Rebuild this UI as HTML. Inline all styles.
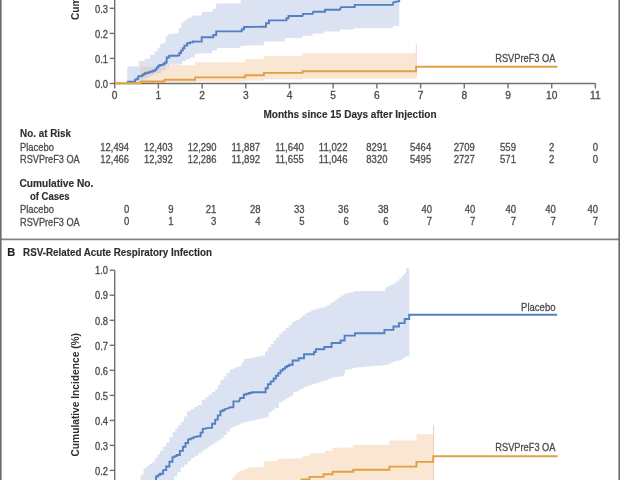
<!DOCTYPE html>
<html><head><meta charset="utf-8"><style>
html,body{margin:0;padding:0;background:#fff;}
body{width:620px;height:480px;overflow:hidden;}
svg{display:block;font-family:"Liberation Sans", sans-serif;will-change:transform;filter:blur(0.3px);}
</style></head><body>
<svg width="620" height="480" viewBox="0 0 620 480">
<rect width="620" height="480" fill="#fff"/>
<defs><clipPath id="cb"><polygon points="127.3,66.6 138.8,66.6 138.8,61.0 144.5,61.0 144.5,58.8 150.2,58.8 150.2,55.1 154.4,55.1 154.4,51.5 157.5,51.5 157.5,47.8 159.6,47.8 160.4,44.3 163.5,43.2 165.6,43.2 165.6,36.5 167.7,36.5 167.7,34.4 177.1,33.3 178.6,33.3 178.6,28.1 181.3,28.1 181.3,22.9 183.3,22.9 183.3,20.8 186.5,20.8 186.5,18.8 191.1,17.7 192.2,15.6 201.7,15.6 202.4,11.7 212.6,11.7 212.6,8.8 216.2,8.8 216.2,3.6 240.3,3.6 241.0,-1.0 399.2,-1.0 399.2,25.9 392.7,25.9 392.7,28.2 354.0,28.2 354.0,29.4 339.8,29.4 339.8,31.6 323.5,31.6 323.5,33.5 312.6,33.5 312.6,35.7 302.4,35.7 302.4,37.9 284.9,37.9 284.9,41.6 263.8,41.6 263.8,45.2 255.0,45.2 240.3,45.9 240.3,48.1 217.0,48.1 217.0,50.3 212.0,50.3 212.0,53.2 202.4,53.2 195.0,54.0 195.0,57.6 190.0,57.6 190.0,59.3 186.2,59.3 186.2,61.0 182.3,61.0 182.3,64.2 179.0,64.2 170.0,65.0 170.0,67.1 165.8,67.1 165.8,70.2 161.7,70.2 161.7,73.3 156.5,73.3 156.5,74.3 153.9,74.3 153.9,75.4 151.2,75.4 151.2,76.7 148.6,76.7 148.6,78.0 146.0,78.0 146.0,79.3 143.2,79.3 143.2,80.6 140.3,80.6 140.3,83.5 127.3,83.5"/></clipPath></defs>
<polygon points="127.3,66.6 138.8,66.6 138.8,61.0 144.5,61.0 144.5,58.8 150.2,58.8 150.2,55.1 154.4,55.1 154.4,51.5 157.5,51.5 157.5,47.8 159.6,47.8 160.4,44.3 163.5,43.2 165.6,43.2 165.6,36.5 167.7,36.5 167.7,34.4 177.1,33.3 178.6,33.3 178.6,28.1 181.3,28.1 181.3,22.9 183.3,22.9 183.3,20.8 186.5,20.8 186.5,18.8 191.1,17.7 192.2,15.6 201.7,15.6 202.4,11.7 212.6,11.7 212.6,8.8 216.2,8.8 216.2,3.6 240.3,3.6 241.0,-1.0 399.2,-1.0 399.2,25.9 392.7,25.9 392.7,28.2 354.0,28.2 354.0,29.4 339.8,29.4 339.8,31.6 323.5,31.6 323.5,33.5 312.6,33.5 312.6,35.7 302.4,35.7 302.4,37.9 284.9,37.9 284.9,41.6 263.8,41.6 263.8,45.2 255.0,45.2 240.3,45.9 240.3,48.1 217.0,48.1 217.0,50.3 212.0,50.3 212.0,53.2 202.4,53.2 195.0,54.0 195.0,57.6 190.0,57.6 190.0,59.3 186.2,59.3 186.2,61.0 182.3,61.0 182.3,64.2 179.0,64.2 170.0,65.0 170.0,67.1 165.8,67.1 165.8,70.2 161.7,70.2 161.7,73.3 156.5,73.3 156.5,74.3 153.9,74.3 153.9,75.4 151.2,75.4 151.2,76.7 148.6,76.7 148.6,78.0 146.0,78.0 146.0,79.3 143.2,79.3 143.2,80.6 140.3,80.6 140.3,83.5 127.3,83.5" fill="#dbe2f1" />
<polygon points="140.3,66.4 172.0,66.4 172.0,64.8 195.2,65.5 195.2,62.3 245.5,62.3 245.5,59.0 263.8,59.0 263.8,56.1 302.4,56.1 302.4,53.2 416.0,53.2 416.0,78.5 302.6,78.5 302.6,79.4 263.9,79.4 263.9,80.6 245.2,80.6 245.2,81.5 195.2,81.5 195.2,82.3 165.0,82.3 165.0,83.0 140.3,83.3" fill="#f9e6d3" />
<polygon points="140.3,66.4 172.0,66.4 172.0,64.8 195.2,65.5 195.2,62.3 245.5,62.3 245.5,59.0 263.8,59.0 263.8,56.1 302.4,56.1 302.4,53.2 416.0,53.2 416.0,78.5 302.6,78.5 302.6,79.4 263.9,79.4 263.9,80.6 245.2,80.6 245.2,81.5 195.2,81.5 195.2,82.3 165.0,82.3 165.0,83.0 140.3,83.3" fill="#ddd6d8" clip-path="url(#cb)"/>
<line x1="416.3" y1="44" x2="416.3" y2="77.5" stroke="#f7cfc6" stroke-width="1"/>
<g stroke="#707070" stroke-width="1.4" fill="none">
<line x1="114.7" y1="-2" x2="114.7" y2="83.5"/>
<line x1="114.7" y1="83.5" x2="595.4000000000001" y2="83.5"/>
<line x1="109.7" y1="83.5" x2="114.7" y2="83.5"/>
<line x1="109.7" y1="58.4" x2="114.7" y2="58.4"/>
<line x1="109.7" y1="33.4" x2="114.7" y2="33.4"/>
<line x1="109.7" y1="8.3" x2="114.7" y2="8.3"/>
<line x1="114.7" y1="83.5" x2="114.7" y2="88.5"/>
<line x1="158.4" y1="83.5" x2="158.4" y2="88.5"/>
<line x1="202.1" y1="83.5" x2="202.1" y2="88.5"/>
<line x1="245.8" y1="83.5" x2="245.8" y2="88.5"/>
<line x1="289.5" y1="83.5" x2="289.5" y2="88.5"/>
<line x1="333.2" y1="83.5" x2="333.2" y2="88.5"/>
<line x1="376.9" y1="83.5" x2="376.9" y2="88.5"/>
<line x1="420.6" y1="83.5" x2="420.6" y2="88.5"/>
<line x1="464.3" y1="83.5" x2="464.3" y2="88.5"/>
<line x1="508.0" y1="83.5" x2="508.0" y2="88.5"/>
<line x1="551.7" y1="83.5" x2="551.7" y2="88.5"/>
<line x1="595.4" y1="83.5" x2="595.4" y2="88.5"/>
</g>
<polyline points="126.8,81.7 133.8,81.7 133.8,81.7 135.0,81.7 135.0,79.6 136.7,79.6 136.7,78.8 138.3,78.8 138.3,76.2 141.7,76.2 141.7,75.4 143.3,75.4 143.3,74.2 145.0,74.2 145.0,73.3 147.5,73.3 147.5,72.5 150.0,72.5 150.0,71.7 152.5,71.7 152.5,70.8 155.0,70.8 155.0,69.6 156.7,69.6 156.7,67.5 158.3,67.5 158.3,65.8 160.0,65.8 160.0,65.0 163.3,65.0 163.3,63.8 165.0,63.8 165.0,62.5 166.7,62.5 166.7,57.5 169.2,57.5 169.2,55.8 177.5,55.8 177.5,55.4 177.5,55.4 179.3,55.4 179.3,53.0 181.0,53.0 181.0,50.6 182.7,50.6 182.7,48.2 184.4,48.2 184.4,45.6 187.1,45.6 187.1,43.3 190.0,43.3 190.0,42.4 192.9,42.4 192.9,41.5 201.7,41.6 201.7,37.2 211.9,37.2 213.3,37.2 213.3,35.0 216.2,35.0 216.2,31.4 239.6,31.4 241.8,31.4 241.8,29.2 244.0,29.2 244.0,27.0 263.0,26.8 266.0,26.8 266.0,23.3 268.9,23.3 268.9,20.4 284.9,20.4 286.4,20.4 286.4,18.2 288.5,18.2 288.5,16.0 302.4,16.0 303.1,13.9 312.6,13.9 313.3,11.7 323.5,11.7 325.0,11.7 325.0,9.7 339.8,9.7 341.0,7.1 354.7,7.1 354.7,4.9 392.7,4.9 393.4,2.3 399.2,1.3 399.2,-3.0" fill="none" stroke="#5280c3" stroke-width="1.9"/>
<polyline points="115.0,83.3 140.8,83.3 140.8,81.5 164.5,81.5 164.5,79.7 195.2,79.7 195.2,77.4 245.2,77.4 245.2,75.2 263.9,75.2 263.9,72.9 302.6,72.9 302.6,71.2 416.1,71.2 416.1,66.7 557.4,66.7" fill="none" stroke="#e2a043" stroke-width="1.9"/>
<text x="108" y="87.7" font-size="10.2" font-weight="normal" text-anchor="end" fill="#4a4a4a" stroke="#4a4a4a" stroke-width="0.3" textLength="13.0" lengthAdjust="spacingAndGlyphs" >0.0</text>
<text x="108" y="62.6" font-size="10.2" font-weight="normal" text-anchor="end" fill="#4a4a4a" stroke="#4a4a4a" stroke-width="0.3" textLength="13.0" lengthAdjust="spacingAndGlyphs" >0.1</text>
<text x="108" y="37.6" font-size="10.2" font-weight="normal" text-anchor="end" fill="#4a4a4a" stroke="#4a4a4a" stroke-width="0.3" textLength="13.0" lengthAdjust="spacingAndGlyphs" >0.2</text>
<text x="108" y="12.5" font-size="10.2" font-weight="normal" text-anchor="end" fill="#4a4a4a" stroke="#4a4a4a" stroke-width="0.3" textLength="13.0" lengthAdjust="spacingAndGlyphs" >0.3</text>
<text x="114.7" y="98.9" font-size="10.2" font-weight="normal" text-anchor="middle" fill="#4a4a4a" stroke="#4a4a4a" stroke-width="0.3" >0</text>
<text x="158.4" y="98.9" font-size="10.2" font-weight="normal" text-anchor="middle" fill="#4a4a4a" stroke="#4a4a4a" stroke-width="0.3" >1</text>
<text x="202.1" y="98.9" font-size="10.2" font-weight="normal" text-anchor="middle" fill="#4a4a4a" stroke="#4a4a4a" stroke-width="0.3" >2</text>
<text x="245.8" y="98.9" font-size="10.2" font-weight="normal" text-anchor="middle" fill="#4a4a4a" stroke="#4a4a4a" stroke-width="0.3" >3</text>
<text x="289.5" y="98.9" font-size="10.2" font-weight="normal" text-anchor="middle" fill="#4a4a4a" stroke="#4a4a4a" stroke-width="0.3" >4</text>
<text x="333.2" y="98.9" font-size="10.2" font-weight="normal" text-anchor="middle" fill="#4a4a4a" stroke="#4a4a4a" stroke-width="0.3" >5</text>
<text x="376.9" y="98.9" font-size="10.2" font-weight="normal" text-anchor="middle" fill="#4a4a4a" stroke="#4a4a4a" stroke-width="0.3" >6</text>
<text x="420.6" y="98.9" font-size="10.2" font-weight="normal" text-anchor="middle" fill="#4a4a4a" stroke="#4a4a4a" stroke-width="0.3" >7</text>
<text x="464.3" y="98.9" font-size="10.2" font-weight="normal" text-anchor="middle" fill="#4a4a4a" stroke="#4a4a4a" stroke-width="0.3" >8</text>
<text x="508.0" y="98.9" font-size="10.2" font-weight="normal" text-anchor="middle" fill="#4a4a4a" stroke="#4a4a4a" stroke-width="0.3" >9</text>
<text x="551.7" y="98.9" font-size="10.2" font-weight="normal" text-anchor="middle" fill="#4a4a4a" stroke="#4a4a4a" stroke-width="0.3" >10</text>
<text x="595.4" y="98.9" font-size="10.2" font-weight="normal" text-anchor="middle" fill="#4a4a4a" stroke="#4a4a4a" stroke-width="0.3" >11</text>
<text x="555.5" y="61.6" font-size="10.6" font-weight="normal" text-anchor="end" fill="#4c4c4c" stroke="#4c4c4c" stroke-width="0.3" textLength="60.3" lengthAdjust="spacingAndGlyphs" >RSVPreF3 OA</text>
<text x="263.5" y="118.4" font-size="10.6" font-weight="bold" text-anchor="start" fill="#2e2e2e" stroke="#2e2e2e" stroke-width="0.15" textLength="173" lengthAdjust="spacingAndGlyphs" >Months since 15 Days after Injection</text>
<text transform="translate(79.1,20) rotate(-90)" font-size="10.6" font-weight="bold" fill="#2e2e2e" textLength="123" lengthAdjust="spacingAndGlyphs">Cumulative Incidence (%)</text>
<text x="20.1" y="137.4" font-size="10.6" font-weight="bold" text-anchor="start" fill="#2e2e2e" stroke="#2e2e2e" stroke-width="0.15" textLength="50.8" lengthAdjust="spacingAndGlyphs" >No. at Risk</text>
<text x="20" y="150.7" font-size="10.6" font-weight="normal" text-anchor="start" fill="#4c4c4c" stroke="#4c4c4c" stroke-width="0.3" textLength="33.9" lengthAdjust="spacingAndGlyphs" >Placebo</text>
<text x="20" y="163.2" font-size="10.6" font-weight="normal" text-anchor="start" fill="#4c4c4c" stroke="#4c4c4c" stroke-width="0.3" textLength="59.7" lengthAdjust="spacingAndGlyphs" >RSVPreF3 OA</text>
<text x="114.7" y="150.5" font-size="10.5" font-weight="normal" text-anchor="middle" fill="#4c4c4c" stroke="#4c4c4c" stroke-width="0.3" textLength="28.7" lengthAdjust="spacingAndGlyphs" >12,494</text>
<text x="114.7" y="163" font-size="10.5" font-weight="normal" text-anchor="middle" fill="#4c4c4c" stroke="#4c4c4c" stroke-width="0.3" textLength="28.7" lengthAdjust="spacingAndGlyphs" >12,466</text>
<text x="158.4" y="150.5" font-size="10.5" font-weight="normal" text-anchor="middle" fill="#4c4c4c" stroke="#4c4c4c" stroke-width="0.3" textLength="28.7" lengthAdjust="spacingAndGlyphs" >12,403</text>
<text x="158.4" y="163" font-size="10.5" font-weight="normal" text-anchor="middle" fill="#4c4c4c" stroke="#4c4c4c" stroke-width="0.3" textLength="28.7" lengthAdjust="spacingAndGlyphs" >12,392</text>
<text x="202.1" y="150.5" font-size="10.5" font-weight="normal" text-anchor="middle" fill="#4c4c4c" stroke="#4c4c4c" stroke-width="0.3" textLength="28.7" lengthAdjust="spacingAndGlyphs" >12,290</text>
<text x="202.1" y="163" font-size="10.5" font-weight="normal" text-anchor="middle" fill="#4c4c4c" stroke="#4c4c4c" stroke-width="0.3" textLength="28.7" lengthAdjust="spacingAndGlyphs" >12,286</text>
<text x="245.8" y="150.5" font-size="10.5" font-weight="normal" text-anchor="middle" fill="#4c4c4c" stroke="#4c4c4c" stroke-width="0.3" textLength="28.7" lengthAdjust="spacingAndGlyphs" >11,887</text>
<text x="245.8" y="163" font-size="10.5" font-weight="normal" text-anchor="middle" fill="#4c4c4c" stroke="#4c4c4c" stroke-width="0.3" textLength="28.7" lengthAdjust="spacingAndGlyphs" >11,892</text>
<text x="289.5" y="150.5" font-size="10.5" font-weight="normal" text-anchor="middle" fill="#4c4c4c" stroke="#4c4c4c" stroke-width="0.3" textLength="28.7" lengthAdjust="spacingAndGlyphs" >11,640</text>
<text x="289.5" y="163" font-size="10.5" font-weight="normal" text-anchor="middle" fill="#4c4c4c" stroke="#4c4c4c" stroke-width="0.3" textLength="28.7" lengthAdjust="spacingAndGlyphs" >11,655</text>
<text x="333.2" y="150.5" font-size="10.5" font-weight="normal" text-anchor="middle" fill="#4c4c4c" stroke="#4c4c4c" stroke-width="0.3" textLength="28.7" lengthAdjust="spacingAndGlyphs" >11,022</text>
<text x="333.2" y="163" font-size="10.5" font-weight="normal" text-anchor="middle" fill="#4c4c4c" stroke="#4c4c4c" stroke-width="0.3" textLength="28.7" lengthAdjust="spacingAndGlyphs" >11,046</text>
<text x="376.9" y="150.5" font-size="10.5" font-weight="normal" text-anchor="middle" fill="#4c4c4c" stroke="#4c4c4c" stroke-width="0.3" textLength="21.2" lengthAdjust="spacingAndGlyphs" >8291</text>
<text x="376.9" y="163" font-size="10.5" font-weight="normal" text-anchor="middle" fill="#4c4c4c" stroke="#4c4c4c" stroke-width="0.3" textLength="21.2" lengthAdjust="spacingAndGlyphs" >8320</text>
<text x="420.6" y="150.5" font-size="10.5" font-weight="normal" text-anchor="middle" fill="#4c4c4c" stroke="#4c4c4c" stroke-width="0.3" textLength="21.2" lengthAdjust="spacingAndGlyphs" >5464</text>
<text x="420.6" y="163" font-size="10.5" font-weight="normal" text-anchor="middle" fill="#4c4c4c" stroke="#4c4c4c" stroke-width="0.3" textLength="21.2" lengthAdjust="spacingAndGlyphs" >5495</text>
<text x="464.3" y="150.5" font-size="10.5" font-weight="normal" text-anchor="middle" fill="#4c4c4c" stroke="#4c4c4c" stroke-width="0.3" textLength="21.2" lengthAdjust="spacingAndGlyphs" >2709</text>
<text x="464.3" y="163" font-size="10.5" font-weight="normal" text-anchor="middle" fill="#4c4c4c" stroke="#4c4c4c" stroke-width="0.3" textLength="21.2" lengthAdjust="spacingAndGlyphs" >2727</text>
<text x="508.0" y="150.5" font-size="10.5" font-weight="normal" text-anchor="middle" fill="#4c4c4c" stroke="#4c4c4c" stroke-width="0.3" textLength="15.9" lengthAdjust="spacingAndGlyphs" >559</text>
<text x="508.0" y="163" font-size="10.5" font-weight="normal" text-anchor="middle" fill="#4c4c4c" stroke="#4c4c4c" stroke-width="0.3" textLength="15.9" lengthAdjust="spacingAndGlyphs" >571</text>
<text x="551.7" y="150.5" font-size="10.5" font-weight="normal" text-anchor="middle" fill="#4c4c4c" stroke="#4c4c4c" stroke-width="0.3" textLength="5.3" lengthAdjust="spacingAndGlyphs" >2</text>
<text x="551.7" y="163" font-size="10.5" font-weight="normal" text-anchor="middle" fill="#4c4c4c" stroke="#4c4c4c" stroke-width="0.3" textLength="5.3" lengthAdjust="spacingAndGlyphs" >2</text>
<text x="595.4" y="150.5" font-size="10.5" font-weight="normal" text-anchor="middle" fill="#4c4c4c" stroke="#4c4c4c" stroke-width="0.3" textLength="5.3" lengthAdjust="spacingAndGlyphs" >0</text>
<text x="595.4" y="163" font-size="10.5" font-weight="normal" text-anchor="middle" fill="#4c4c4c" stroke="#4c4c4c" stroke-width="0.3" textLength="5.3" lengthAdjust="spacingAndGlyphs" >0</text>
<text x="19.4" y="187.4" font-size="10.6" font-weight="bold" text-anchor="start" fill="#2e2e2e" stroke="#2e2e2e" stroke-width="0.15" textLength="74" lengthAdjust="spacingAndGlyphs" >Cumulative No.</text>
<text x="29.9" y="200" font-size="10.6" font-weight="bold" text-anchor="start" fill="#2e2e2e" stroke="#2e2e2e" stroke-width="0.15" textLength="39.8" lengthAdjust="spacingAndGlyphs" >of Cases</text>
<text x="20" y="213" font-size="10.6" font-weight="normal" text-anchor="start" fill="#4c4c4c" stroke="#4c4c4c" stroke-width="0.3" textLength="33.9" lengthAdjust="spacingAndGlyphs" >Placebo</text>
<text x="20" y="225.6" font-size="10.6" font-weight="normal" text-anchor="start" fill="#4c4c4c" stroke="#4c4c4c" stroke-width="0.3" textLength="59.7" lengthAdjust="spacingAndGlyphs" >RSVPreF3 OA</text>
<text x="129.4" y="213.3" font-size="10.5" font-weight="normal" text-anchor="end" fill="#4c4c4c" stroke="#4c4c4c" stroke-width="0.3" textLength="5.3" lengthAdjust="spacingAndGlyphs" >0</text>
<text x="129.4" y="225.4" font-size="10.5" font-weight="normal" text-anchor="end" fill="#4c4c4c" stroke="#4c4c4c" stroke-width="0.3" textLength="5.3" lengthAdjust="spacingAndGlyphs" >0</text>
<text x="173.5" y="213.3" font-size="10.5" font-weight="normal" text-anchor="end" fill="#4c4c4c" stroke="#4c4c4c" stroke-width="0.3" textLength="5.3" lengthAdjust="spacingAndGlyphs" >9</text>
<text x="173.5" y="225.4" font-size="10.5" font-weight="normal" text-anchor="end" fill="#4c4c4c" stroke="#4c4c4c" stroke-width="0.3" textLength="5.3" lengthAdjust="spacingAndGlyphs" >1</text>
<text x="216.3" y="213.3" font-size="10.5" font-weight="normal" text-anchor="end" fill="#4c4c4c" stroke="#4c4c4c" stroke-width="0.3" textLength="10.6" lengthAdjust="spacingAndGlyphs" >21</text>
<text x="216.3" y="225.4" font-size="10.5" font-weight="normal" text-anchor="end" fill="#4c4c4c" stroke="#4c4c4c" stroke-width="0.3" textLength="5.3" lengthAdjust="spacingAndGlyphs" >3</text>
<text x="260.6" y="213.3" font-size="10.5" font-weight="normal" text-anchor="end" fill="#4c4c4c" stroke="#4c4c4c" stroke-width="0.3" textLength="10.6" lengthAdjust="spacingAndGlyphs" >28</text>
<text x="260.6" y="225.4" font-size="10.5" font-weight="normal" text-anchor="end" fill="#4c4c4c" stroke="#4c4c4c" stroke-width="0.3" textLength="5.3" lengthAdjust="spacingAndGlyphs" >4</text>
<text x="304.6" y="213.3" font-size="10.5" font-weight="normal" text-anchor="end" fill="#4c4c4c" stroke="#4c4c4c" stroke-width="0.3" textLength="10.6" lengthAdjust="spacingAndGlyphs" >33</text>
<text x="304.6" y="225.4" font-size="10.5" font-weight="normal" text-anchor="end" fill="#4c4c4c" stroke="#4c4c4c" stroke-width="0.3" textLength="5.3" lengthAdjust="spacingAndGlyphs" >5</text>
<text x="348.7" y="213.3" font-size="10.5" font-weight="normal" text-anchor="end" fill="#4c4c4c" stroke="#4c4c4c" stroke-width="0.3" textLength="10.6" lengthAdjust="spacingAndGlyphs" >36</text>
<text x="348.7" y="225.4" font-size="10.5" font-weight="normal" text-anchor="end" fill="#4c4c4c" stroke="#4c4c4c" stroke-width="0.3" textLength="5.3" lengthAdjust="spacingAndGlyphs" >6</text>
<text x="388.5" y="213.3" font-size="10.5" font-weight="normal" text-anchor="end" fill="#4c4c4c" stroke="#4c4c4c" stroke-width="0.3" textLength="10.6" lengthAdjust="spacingAndGlyphs" >38</text>
<text x="388.5" y="225.4" font-size="10.5" font-weight="normal" text-anchor="end" fill="#4c4c4c" stroke="#4c4c4c" stroke-width="0.3" textLength="5.3" lengthAdjust="spacingAndGlyphs" >6</text>
<text x="432.1" y="213.3" font-size="10.5" font-weight="normal" text-anchor="end" fill="#4c4c4c" stroke="#4c4c4c" stroke-width="0.3" textLength="10.6" lengthAdjust="spacingAndGlyphs" >40</text>
<text x="432.1" y="225.4" font-size="10.5" font-weight="normal" text-anchor="end" fill="#4c4c4c" stroke="#4c4c4c" stroke-width="0.3" textLength="5.3" lengthAdjust="spacingAndGlyphs" >7</text>
<text x="475.3" y="213.3" font-size="10.5" font-weight="normal" text-anchor="end" fill="#4c4c4c" stroke="#4c4c4c" stroke-width="0.3" textLength="10.6" lengthAdjust="spacingAndGlyphs" >40</text>
<text x="475.3" y="225.4" font-size="10.5" font-weight="normal" text-anchor="end" fill="#4c4c4c" stroke="#4c4c4c" stroke-width="0.3" textLength="5.3" lengthAdjust="spacingAndGlyphs" >7</text>
<text x="516.1" y="213.3" font-size="10.5" font-weight="normal" text-anchor="end" fill="#4c4c4c" stroke="#4c4c4c" stroke-width="0.3" textLength="10.6" lengthAdjust="spacingAndGlyphs" >40</text>
<text x="516.1" y="225.4" font-size="10.5" font-weight="normal" text-anchor="end" fill="#4c4c4c" stroke="#4c4c4c" stroke-width="0.3" textLength="5.3" lengthAdjust="spacingAndGlyphs" >7</text>
<text x="555.8" y="213.3" font-size="10.5" font-weight="normal" text-anchor="end" fill="#4c4c4c" stroke="#4c4c4c" stroke-width="0.3" textLength="10.6" lengthAdjust="spacingAndGlyphs" >40</text>
<text x="555.8" y="225.4" font-size="10.5" font-weight="normal" text-anchor="end" fill="#4c4c4c" stroke="#4c4c4c" stroke-width="0.3" textLength="5.3" lengthAdjust="spacingAndGlyphs" >7</text>
<text x="598.1" y="213.3" font-size="10.5" font-weight="normal" text-anchor="end" fill="#4c4c4c" stroke="#4c4c4c" stroke-width="0.3" textLength="10.6" lengthAdjust="spacingAndGlyphs" >40</text>
<text x="598.1" y="225.4" font-size="10.5" font-weight="normal" text-anchor="end" fill="#4c4c4c" stroke="#4c4c4c" stroke-width="0.3" textLength="5.3" lengthAdjust="spacingAndGlyphs" >7</text>
<line x1="0" y1="239.4" x2="620" y2="239.4" stroke="#858585" stroke-width="1.6"/>
<rect x="0" y="0" width="1.6" height="480" fill="#6a6a6a"/>
<rect x="618.4" y="0" width="1.6" height="480" fill="#6a6a6a"/>
<text x="7.2" y="255.6" font-size="10.6" font-weight="bold" text-anchor="start" fill="#1e1e1e" stroke="#1e1e1e" stroke-width="0.15" textLength="8.0" lengthAdjust="spacingAndGlyphs" >B</text>
<text x="23.1" y="256" font-size="10.6" font-weight="bold" text-anchor="start" fill="#2e2e2e" stroke="#2e2e2e" stroke-width="0.15" textLength="188.8" lengthAdjust="spacingAndGlyphs" >RSV-Related Acute Respiratory Infection</text>
<polygon points="137.8,481.0 140.7,481.0 140.7,474.6 143.6,474.6 143.6,468.3 146.5,468.3 146.5,466.1 149.4,466.1 149.4,463.9 152.3,463.9 152.3,461.7 154.9,461.7 154.9,458.1 157.4,458.1 157.4,454.4 160.0,454.4 160.0,450.8 163.1,450.8 163.1,446.6 166.2,446.6 166.2,442.5 169.4,442.5 169.4,437.3 172.5,437.3 172.5,432.1 175.3,432.1 175.3,428.6 178.0,428.6 178.0,425.2 180.8,425.2 180.8,421.7 183.9,421.7 183.9,416.5 187.1,416.5 187.1,411.2 190.6,411.2 190.6,409.2 194.0,409.2 194.0,407.1 197.5,407.1 197.5,405.0 201.7,405.0 201.7,399.8 205.1,399.8 205.1,397.2 208.4,397.2 208.4,394.6 211.8,394.6 211.8,392.0 215.2,392.0 215.2,389.4 217.8,389.4 217.8,384.7 220.4,384.7 220.4,380.0 223.6,380.0 223.6,376.4 226.8,376.4 226.8,372.9 230.0,372.9 230.0,369.3 233.1,369.3 233.1,368.2 236.1,368.2 236.1,367.0 239.2,367.0 239.2,365.9 241.5,365.9 241.5,362.4 243.8,362.4 243.8,359.0 246.9,359.0 246.9,358.4 249.9,358.4 249.9,357.9 253.0,357.9 253.0,357.3 256.0,357.3 256.0,356.7 259.1,356.7 259.1,356.2 262.1,356.2 262.1,355.6 265.0,355.6 265.0,351.6 267.8,351.6 267.8,347.5 270.7,347.5 270.7,344.1 273.6,344.1 273.6,340.6 276.4,340.6 276.4,337.2 279.3,337.2 279.3,333.8 282.4,333.8 282.4,330.9 285.6,330.9 285.6,328.1 288.8,328.1 288.8,325.2 291.9,325.2 291.9,322.3 294.2,322.3 294.2,321.1 296.5,321.1 296.5,320.0 299.4,320.0 299.4,317.7 302.3,317.7 302.3,315.4 305.2,315.4 305.2,313.1 308.2,313.1 308.2,311.8 311.2,311.8 311.2,310.5 314.2,310.5 314.2,309.2 317.6,309.2 317.6,308.3 321.1,308.3 321.1,307.5 324.5,307.5 324.5,306.6 327.1,306.6 327.1,304.9 329.7,304.9 329.7,303.2 332.3,303.2 332.3,301.5 335.2,301.5 335.2,299.6 338.1,299.6 338.1,297.6 341.0,297.6 341.0,295.6 343.9,295.6 343.9,293.7 347.3,293.7 347.3,292.8 350.8,292.8 350.8,292.0 354.2,292.0 354.2,291.1 383.9,291.1 385.2,291.1 385.2,287.3 387.8,287.3 387.8,286.0 390.3,286.0 390.3,284.7 392.9,284.7 392.9,283.4 396.1,283.4 396.1,280.8 399.4,280.8 399.4,278.2 401.9,278.2 401.9,275.6 404.5,275.6 404.5,273.1 406.0,273.1 406.0,268.2 409.3,268.2 409.3,353.8 409.3,356.2 405.0,356.2 405.0,358.1 402.5,358.1 402.5,360.0 400.0,360.0 400.0,360.6 396.9,360.6 396.9,361.2 393.8,361.2 393.8,362.5 390.8,362.5 390.8,363.8 387.9,363.8 387.9,365.0 385.0,365.0 385.0,365.2 382.0,365.2 382.0,365.5 379.0,365.5 379.0,365.8 376.0,365.8 376.0,366.0 373.0,366.0 373.0,366.2 370.0,366.2 370.0,366.5 367.0,366.5 367.0,366.8 364.0,366.8 364.0,367.0 361.0,367.0 361.0,367.2 358.0,367.2 358.0,367.5 355.0,367.5 355.0,368.3 351.7,368.3 351.7,369.2 348.3,369.2 348.3,370.0 345.0,370.0 345.0,373.8 343.8,373.8 343.8,376.2 340.0,376.2 340.0,376.7 337.2,376.7 337.2,377.1 334.3,377.1 334.3,377.5 331.5,377.5 331.5,378.9 327.9,378.9 327.9,380.4 324.2,380.4 324.2,381.3 321.3,381.3 321.3,382.2 318.4,382.2 318.4,383.2 315.4,383.2 315.4,384.1 312.5,384.1 312.5,385.1 309.6,385.1 309.6,386.0 306.7,386.0 306.7,387.0 303.8,387.0 303.8,388.7 300.3,388.7 300.3,390.4 296.9,390.4 296.9,392.1 293.5,392.1 293.5,395.0 292.1,395.0 292.1,396.8 288.8,396.8 288.8,398.6 285.6,398.6 285.6,400.5 282.3,400.5 282.3,402.3 279.0,402.3 279.0,408.1 274.6,408.1 274.6,410.3 271.7,410.3 271.7,412.5 268.8,412.5 268.8,417.6 264.4,417.6 264.4,418.2 261.5,418.2 261.5,418.9 258.5,418.9 258.5,419.5 255.6,419.5 255.6,420.2 252.6,420.2 252.6,420.8 249.7,420.8 249.7,421.5 246.7,421.5 246.7,422.1 243.8,422.1 243.8,423.3 241.0,423.3 241.0,424.5 238.3,424.5 238.3,425.6 235.5,425.6 235.5,426.8 232.8,426.8 232.8,428.0 230.0,428.0 230.0,431.4 226.8,431.4 226.8,434.9 223.6,434.9 223.6,438.3 220.4,438.3 220.4,440.4 217.3,440.4 217.3,442.5 214.2,442.5 214.2,444.6 211.1,444.6 211.1,446.6 207.9,446.6 207.9,448.7 204.8,448.7 204.8,450.8 201.7,450.8 201.7,453.2 198.2,453.2 198.2,455.7 194.7,455.7 194.7,458.1 191.2,458.1 191.2,461.2 187.8,461.2 187.8,464.4 184.3,464.4 184.3,467.5 180.8,467.5 180.8,472.0 177.3,472.0 177.3,476.5 173.9,476.5 173.9,481.0 170.4,481.0" fill="#dbe2f1" />
<polygon points="228.9,481.0 231.5,481.0 231.5,478.1 234.0,478.1 234.0,475.2 236.6,475.2 236.6,472.3 239.5,472.3 239.5,471.1 242.4,471.1 242.4,469.9 245.3,469.9 245.3,468.6 248.2,468.6 248.2,467.4 263.7,467.0 263.7,461.6 277.5,461.0 277.5,458.7 302.8,458.2 302.8,455.8 309.8,455.8 309.8,453.5 324.8,453.2 324.8,450.8 332.6,450.8 332.6,447.7 352.7,447.5 352.7,444.8 389.1,444.8 389.1,440.4 416.6,440.4 416.6,434.2 433.5,434.2 433.5,481.0" fill="#f9e6d3" />
<line x1="433.5" y1="425.3" x2="433.5" y2="481" stroke="#f6c9c0" stroke-width="1"/>
<g stroke="#707070" stroke-width="1.4" fill="none">
<line x1="114.7" y1="270.2" x2="114.7" y2="482"/>
<line x1="109.7" y1="470.4" x2="114.7" y2="470.4"/>
<line x1="109.7" y1="445.4" x2="114.7" y2="445.4"/>
<line x1="109.7" y1="420.4" x2="114.7" y2="420.4"/>
<line x1="109.7" y1="395.4" x2="114.7" y2="395.4"/>
<line x1="109.7" y1="370.3" x2="114.7" y2="370.3"/>
<line x1="109.7" y1="345.3" x2="114.7" y2="345.3"/>
<line x1="109.7" y1="320.3" x2="114.7" y2="320.3"/>
<line x1="109.7" y1="295.2" x2="114.7" y2="295.2"/>
<line x1="109.7" y1="270.2" x2="114.7" y2="270.2"/>
</g>
<polyline points="152.8,482.0 156.0,482.0 156.0,476.5 158.0,476.5 158.0,475.1 160.0,475.1 160.0,473.8 163.1,473.8 163.1,470.1 166.2,470.1 166.2,466.5 169.4,466.5 169.4,461.8 172.5,461.8 172.5,457.1 174.6,457.1 174.6,456.1 176.7,456.1 176.7,455.0 179.8,455.0 179.8,450.9 182.9,450.9 182.9,446.7 185.5,446.7 185.5,443.0 188.1,443.0 188.1,439.4 190.7,439.4 190.7,438.4 193.3,438.4 193.3,437.3 198.5,436.2 200.6,436.2 200.6,432.6 202.7,432.6 202.7,429.0 209.0,427.9 212.1,427.9 212.1,423.8 215.2,423.8 215.2,419.6 217.8,419.6 217.8,415.4 220.4,415.4 220.4,411.2 222.5,411.2 222.5,410.2 224.6,410.2 224.6,409.2 228.8,408.1 230.0,407.2 233.4,407.2 233.4,401.4 239.2,401.4 240.3,398.0 243.8,398.0 243.8,394.5 246.5,394.5 246.5,393.7 249.1,393.7 249.1,393.0 251.8,393.0 251.8,392.2 263.3,392.2 265.6,392.2 265.6,388.2 267.8,388.2 267.8,384.2 270.7,384.2 270.7,381.4 273.6,381.4 273.6,378.5 275.9,378.5 275.9,375.8 278.2,375.8 278.2,373.2 280.5,373.2 280.5,370.5 282.8,370.5 282.8,368.9 285.0,368.9 285.0,367.2 285.0,367.2 286.8,367.2 286.8,366.0 289.2,366.0 289.2,364.8 292.6,364.8 292.6,360.5 298.6,360.5 298.6,358.3 304.0,358.3 304.0,354.3 314.0,354.3 314.0,352.0 315.8,352.0 315.8,349.3 324.3,349.3 324.3,347.0 331.6,347.0 331.6,343.0 340.6,343.0 340.6,340.5 344.6,340.5 344.6,335.6 354.9,335.6 354.9,333.3 384.4,333.3 384.4,329.9 393.4,329.9 393.4,326.5 399.0,326.5 399.0,323.1 404.7,323.1 404.7,319.0 409.2,319.0 409.2,314.7 557.1,314.7 557.1,314.7" fill="none" stroke="#5280c3" stroke-width="1.9"/>
<polyline points="280.0,482.0 301.6,482.0 301.6,479.5 309.4,479.5 309.4,476.9 323.5,476.9 323.5,474.3 332.6,474.3 332.6,471.7 353.2,471.7 353.2,469.7 389.4,469.7 389.4,466.6 416.5,466.6 416.5,461.9 433.2,461.9 433.2,456.3 557.7,456.3" fill="none" stroke="#e2a043" stroke-width="1.9"/>
<text x="108" y="474.6" font-size="10.2" font-weight="normal" text-anchor="end" fill="#4a4a4a" stroke="#4a4a4a" stroke-width="0.3" textLength="13.0" lengthAdjust="spacingAndGlyphs" >0.2</text>
<text x="108" y="449.6" font-size="10.2" font-weight="normal" text-anchor="end" fill="#4a4a4a" stroke="#4a4a4a" stroke-width="0.3" textLength="13.0" lengthAdjust="spacingAndGlyphs" >0.3</text>
<text x="108" y="424.6" font-size="10.2" font-weight="normal" text-anchor="end" fill="#4a4a4a" stroke="#4a4a4a" stroke-width="0.3" textLength="13.0" lengthAdjust="spacingAndGlyphs" >0.4</text>
<text x="108" y="399.6" font-size="10.2" font-weight="normal" text-anchor="end" fill="#4a4a4a" stroke="#4a4a4a" stroke-width="0.3" textLength="13.0" lengthAdjust="spacingAndGlyphs" >0.5</text>
<text x="108" y="374.5" font-size="10.2" font-weight="normal" text-anchor="end" fill="#4a4a4a" stroke="#4a4a4a" stroke-width="0.3" textLength="13.0" lengthAdjust="spacingAndGlyphs" >0.6</text>
<text x="108" y="349.5" font-size="10.2" font-weight="normal" text-anchor="end" fill="#4a4a4a" stroke="#4a4a4a" stroke-width="0.3" textLength="13.0" lengthAdjust="spacingAndGlyphs" >0.7</text>
<text x="108" y="324.5" font-size="10.2" font-weight="normal" text-anchor="end" fill="#4a4a4a" stroke="#4a4a4a" stroke-width="0.3" textLength="13.0" lengthAdjust="spacingAndGlyphs" >0.8</text>
<text x="108" y="299.4" font-size="10.2" font-weight="normal" text-anchor="end" fill="#4a4a4a" stroke="#4a4a4a" stroke-width="0.3" textLength="13.0" lengthAdjust="spacingAndGlyphs" >0.9</text>
<text x="108" y="274.4" font-size="10.2" font-weight="normal" text-anchor="end" fill="#4a4a4a" stroke="#4a4a4a" stroke-width="0.3" textLength="13.0" lengthAdjust="spacingAndGlyphs" >1.0</text>
<text x="555.5" y="310.6" font-size="10.6" font-weight="normal" text-anchor="end" fill="#4c4c4c" stroke="#4c4c4c" stroke-width="0.3" textLength="34.4" lengthAdjust="spacingAndGlyphs" >Placebo</text>
<text x="555.5" y="451" font-size="10.6" font-weight="normal" text-anchor="end" fill="#4c4c4c" stroke="#4c4c4c" stroke-width="0.3" textLength="60.2" lengthAdjust="spacingAndGlyphs" >RSVPreF3 OA</text>
<text transform="translate(78.6,456.5) rotate(-90)" font-size="10.6" font-weight="bold" fill="#2e2e2e" textLength="123.5" lengthAdjust="spacingAndGlyphs">Cumulative Incidence (%)</text>
</svg>
</body></html>
